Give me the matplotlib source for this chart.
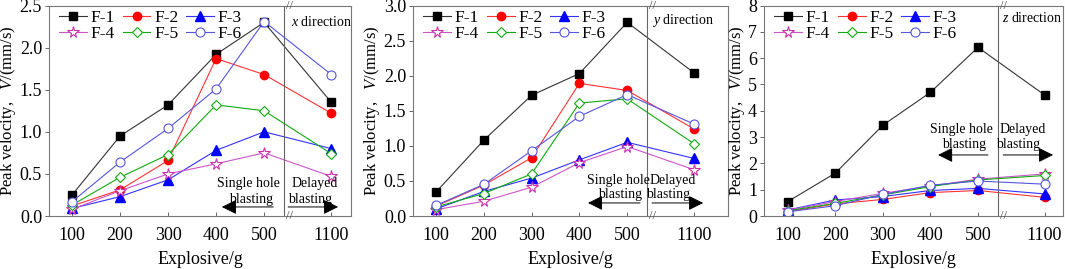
import matplotlib
matplotlib.use("Agg")
import matplotlib.pyplot as plt

plt.rcParams['font.family'] = ['Liberation Serif', 'DejaVu Serif']
plt.rcParams['mathtext.fontset'] = 'custom'
plt.rcParams['mathtext.rm'] = 'Liberation Serif'
plt.rcParams['mathtext.it'] = 'Liberation Serif:italic'

# explosive charge (g); 1100 g is delayed blasting, shown after an axis break
charges = ['100', '200', '300', '400', '500', '1100']
xpos = [0, 1, 2, 3, 4, 5.4]
series = ['F-1', 'F-2', 'F-3', 'F-4', 'F-5', 'F-6']

# peak velocity (mm/s), x direction
vx = {
    'F-1': [0.25, 0.95, 1.32, 1.92, 2.30, 1.35],
    'F-2': [0.12, 0.31, 0.66, 1.87, 1.68, 1.22],
    'F-3': [0.09, 0.23, 0.43, 0.78, 1.00, 0.80],
    'F-4': [0.08, 0.30, 0.50, 0.62, 0.75, 0.47],
    'F-5': [0.13, 0.46, 0.73, 1.32, 1.25, 0.74],
    'F-6': [0.17, 0.64, 1.04, 1.51, 2.31, 1.68],
}
# y direction
vy = {
    'F-1': [0.34, 1.08, 1.72, 2.03, 2.76, 2.04],
    'F-2': [0.14, 0.44, 0.83, 1.89, 1.79, 1.24],
    'F-3': [0.10, 0.35, 0.54, 0.80, 1.05, 0.82],
    'F-4': [0.09, 0.21, 0.41, 0.76, 0.99, 0.66],
    'F-5': [0.13, 0.32, 0.60, 1.61, 1.67, 1.03],
    'F-6': [0.15, 0.45, 0.93, 1.42, 1.73, 1.31],
}
# z direction
vz = {
    'F-1': [0.55, 1.63, 3.45, 4.70, 6.41, 4.60],
    'F-2': [0.17, 0.46, 0.63, 0.89, 0.97, 0.71],
    'F-3': [0.23, 0.61, 0.74, 0.97, 1.05, 0.84],
    'F-4': [0.22, 0.55, 0.86, 1.14, 1.40, 1.60],
    'F-5': [0.20, 0.48, 0.80, 1.12, 1.37, 1.54],
    'F-6': [0.16, 0.39, 0.82, 1.17, 1.33, 1.21],
}

styles = {
    'F-1': dict(color='#333333', marker='s', mfc='black', mec='black', ms=5.5),
    'F-2': dict(color='#ff3333', marker='o', mfc='red', mec='red', ms=6),
    'F-3': dict(color='#3333ff', marker='^', mfc='blue', mec='blue', ms=6.5),
    'F-4': dict(color='#cc55cc', marker='*', mfc='white', mec='#cc33aa', ms=8.5, mew=0.8),
    'F-5': dict(color='#11aa11', marker='D', mfc='white', mec='#11aa11', ms=5.5, mew=0.8),
    'F-6': dict(color='#5555dd', marker='o', mfc='white', mec='#5555dd', ms=6.5, mew=0.8),
}

panels = [
    dict(data=vx, label='x', ylim=(0, 2.5), yticks=[0, 0.5, 1.0, 1.5, 2.0, 2.5], fmt='%.1f',
         rect=[0.0460, 0.197, 0.2836, 0.7825], xlim=(-0.48, 5.81), vline=4.42, brk=4.53,
         dir_xy=(4.56, 0.92), single=(3.67, 0.155, 0.08), larr=(4.19, 3.12, 0.043),
         rarr=(4.50, 5.54), delayed=5.05),
    dict(data=vy, label='y', ylim=(0, 3.0), yticks=[0, 0.5, 1.0, 1.5, 2.0, 2.5, 3.0], fmt='%.1f',
         rect=[0.3878, 0.197, 0.2958, 0.7825], xlim=(-0.48, 6.11), vline=4.42, brk=4.53,
         dir_xy=(4.52, 0.93), single=(3.81, 0.17, 0.10), larr=(4.27, 3.18, 0.062),
         rarr=(4.52, 5.59), delayed=4.96),
    dict(data=vz, label='z', ylim=(0, 8), yticks=list(range(9)), fmt='%d',
         rect=[0.7174, 0.197, 0.2808, 0.7825], xlim=(-0.5, 5.79), vline=4.42, brk=4.53,
         dir_xy=(4.50, 0.94), single=(3.66, 0.41, 0.34), larr=(4.21, 3.16, 0.29),
         rarr=(4.53, 5.58), delayed=4.95),
]

fig = plt.figure(figsize=(10.65, 2.69), dpi=100)

for p in panels:
    ax = fig.add_axes(p['rect'])
    lines = {}
    for s in series:
        st = styles[s]
        ln, = ax.plot(xpos, p['data'][s], lw=0.8, color=st['color'], marker=st['marker'],
                      markerfacecolor=st['mfc'], markeredgecolor=st['mec'],
                      markersize=st['ms'], markeredgewidth=st.get('mew', 1.0), label=s)
        lines[s] = ln

    ax.set_xlim(*p['xlim'])
    ax.set_ylim(*p['ylim'])
    ax.set_xticks(xpos)
    ax.set_xticklabels(charges, fontsize=13)
    ax.set_yticks(p['yticks'])
    ax.set_yticklabels([p['fmt'] % v for v in p['yticks']], fontsize=13)
    ax.tick_params(axis='x', direction='in', length=3, width=0.7, color='#666666', pad=8)
    ax.tick_params(axis='y', direction='out', length=3, width=0.7, color='#666666', pad=2)
    for sp in ax.spines.values():
        sp.set_color('#777777')
        sp.set_linewidth(0.8)
    ax.set_xlabel('Explosive/g', fontsize=13, labelpad=5)
    ax.set_ylabel('Peak velocity,   $\\it{V}$/(mm/s)', fontsize=12, labelpad=1)

    # legend row-wise F-1 F-2 F-3 / F-4 F-5 F-6
    order = ['F-1', 'F-4', 'F-2', 'F-5', 'F-3', 'F-6']
    ax.legend([lines[s] for s in order], order, ncol=3, loc='upper left',
              bbox_to_anchor=(0.0, 1.03), frameon=False, fontsize=12.5,
              handlelength=1.6, handletextpad=0.2, columnspacing=0.45,
              labelspacing=0.0, borderaxespad=0.2)

    tr = ax.get_xaxis_transform()
    ax.axvline(p['vline'], color='#666666', lw=0.8)
    for yy in (0, 1):
        ax.text(p['brk'], yy, '//', transform=tr, ha='center', va='center',
                fontsize=9, color='#444444', clip_on=False)

    ax.text(p['dir_xy'][0], p['dir_xy'][1], '$\\it{%s}$ direction' % p['label'],
            transform=tr, ha='left', va='center', fontsize=10)

    sx, sy1, sy2 = p['single']
    ax.text(sx, sy1, 'Single hole', transform=tr, ha='center', va='center', fontsize=10)
    ax.text(sx + 0.05, sy2, 'blasting', transform=tr, ha='center', va='center', fontsize=10)
    ax.text(p['delayed'], sy1, 'Delayed', transform=tr, ha='center', va='center', fontsize=10)
    ax.text(p['delayed'] - 0.1, sy2, 'blasting', transform=tr, ha='center', va='center', fontsize=10)

    x0, x1, ay = p['larr']
    ax.annotate('', xy=(x1, ay), xytext=(x0, ay), xycoords=tr, textcoords=tr,
                arrowprops=dict(arrowstyle='-|>,head_length=0.9,head_width=0.45',
                                color='black', lw=0.7, shrinkA=0, shrinkB=0))
    r0, r1 = p['rarr']
    ax.annotate('', xy=(r1, ay), xytext=(r0, ay), xycoords=tr, textcoords=tr,
                arrowprops=dict(arrowstyle='-|>,head_length=0.9,head_width=0.45',
                                color='black', lw=0.7, shrinkA=0, shrinkB=0))

fig.savefig('out.png', dpi=100)
